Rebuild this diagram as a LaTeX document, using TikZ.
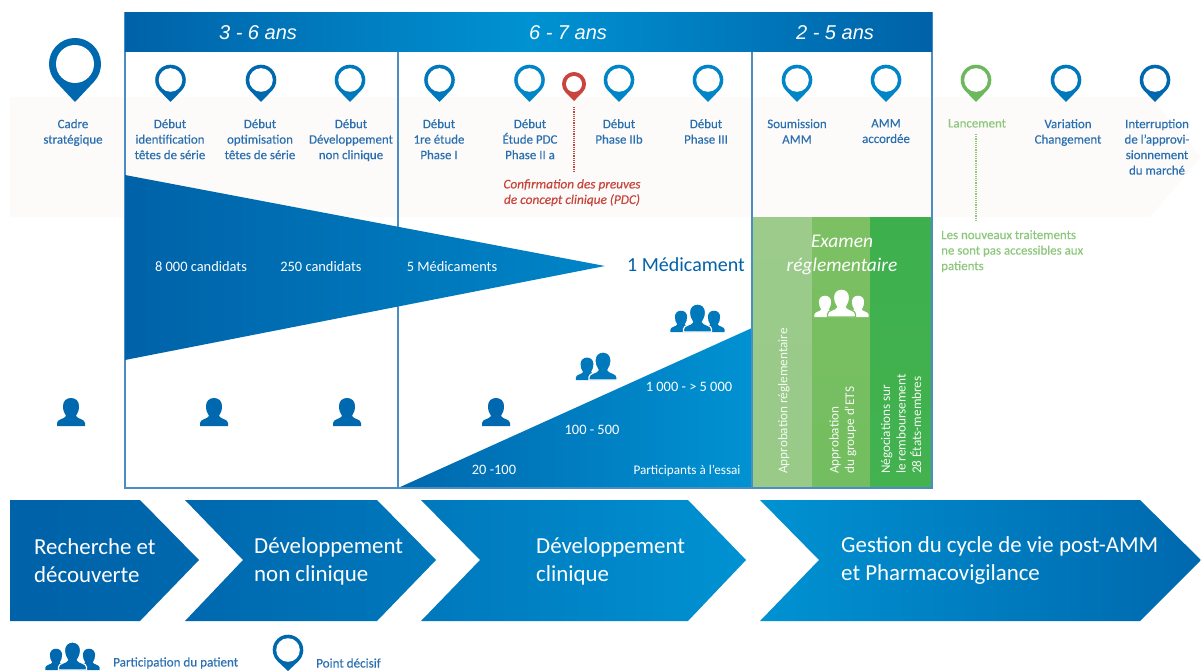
\documentclass[tikz,border=0pt]{standalone}
\usepackage{fontspec}
\setmainfont{Carlito}
\newfontfamily\labf[FakeBold=0.25]{Carlito}
\newfontfamily\headf{Liberation Sans}
\usetikzlibrary{calc}
\definecolor{band}{HTML}{FCFBF9}
\definecolor{frameblue}{HTML}{4A8CC4}
\definecolor{txtblue}{HTML}{2A6FB0}
\definecolor{pinA}{HTML}{0068AE}
\definecolor{pinB}{HTML}{0085C8}
\definecolor{pinR}{HTML}{C8443C}
\definecolor{pinG}{HTML}{6DB85C}
\definecolor{txtG}{HTML}{8DC77B}
\definecolor{deep}{HTML}{0062A8}
\definecolor{midb}{HTML}{0078BC}
\definecolor{light}{HTML}{0092D2}
\definecolor{gA}{HTML}{9CCB8C}
\definecolor{gB}{HTML}{7CC063}
\definecolor{gC}{HTML}{3DB04D}
\tikzset{
  lab/.style={font=\labf\fontsize{12.9}{15.5}\selectfont,text=txtblue,align=center,inner sep=0pt},
  wlab/.style={font=\fontsize{14.4}{16}\selectfont,text=white,inner sep=0pt},
  chev/.style={font=\fontsize{22.9}{28}\selectfont,text=white,align=left,anchor=west,inner sep=0pt},
  head/.style={font=\headf\itshape\fontsize{20}{22}\selectfont,text=white,inner sep=0pt},
  rot/.style={font=\fontsize{13.2}{15.5}\selectfont,text=white!92!gB,rotate=90,align=left,anchor=west,inner sep=0pt},
  frameline/.style={draw=frameblue,line width=1.1pt},
  legend/.style={font=\labf\fontsize{13.1}{15}\selectfont,text=txtblue,anchor=west,inner sep=0pt}
}
% pin: x, cy, r, hole, d(tip distance), colour
\newcommand\pin[6]{%
  \pgfmathsetmacro\pa{acos(#3/#5)}%
  \fill[#6] (#1,#2+#5) -- ($(#1,#2)+({90-\pa}:#3)$) arc[start angle={90-\pa},end angle={90+\pa-360},radius=#3] -- cycle;
  \fill[white] (#1,#2) circle[radius=#4];
}
% person: x, base y, scale, fill, outline
\newcommand\person[5]{%
  \begin{scope}[shift={(#1,#2)},scale=#3]
  \path[fill=#4,draw=#5,line width=1.2pt] (-14,0) -- (-14,-3) .. controls (-14,-7) and (-6,-7) .. (-5,-10) .. controls (-7,-13) and (-8,-16) .. (-8,-20) .. controls (-8,-25) and (-4.5,-28) .. (0,-28) .. controls (4.5,-28) and (8,-25) .. (8,-20) .. controls (8,-16) and (7,-13) .. (5,-10) .. controls (6,-7) and (14,-7) .. (14,-3) -- (14,0) -- cycle;
  \end{scope}
}
\newcommand\trio[4]{% x, y, scale, fill
  \person{#1-16.5*#3}{#2}{.76*#3}{#4}{none}
  \person{#1+16.5*#3}{#2}{.76*#3}{#4}{none}
  \person{#1}{#2}{#3}{#4}{white}
}
\begin{document}
\begin{tikzpicture}[x=1pt,y=-1pt]
\useasboundingbox (0,0) rectangle (1201,671);
\fill[white] (0,0) rectangle (1201,671);
% pale band
\fill[band] (10,97) -- (1150,97) -- (1201,157) -- (1150,217) -- (10,217) -- cycle;
% trial triangle
\path[left color=pinA,right color=light] (398,488) -- (752,328) -- (752,488) -- cycle;
% green columns
\path[top color=gA,bottom color=gA!90!gB] (752,217) rectangle (812,488);
\path[top color=gB,bottom color=gB!85!gC] (812,217) rectangle (870,488);
\path[top color=gC,bottom color=gC!90!gB] (870,217) rectangle (932,488);
% frame
\draw[frameline] (125,13) rectangle (932,488);
\draw[frameline] (398,52) -- (398,488);
\draw[frameline] (752,52) -- (752,488);
% header
\path[left color=deep,right color=light] (125,13) rectangle (528,52);
\path[left color=light,right color=deep] (528,13) rectangle (932,52);
\node[head] (h1) at (258,33) {3 - 6 ans};
\node[head] (h2) at (568,33) {6 - 7 ans};
\node[head] (h3) at (835,33) {2 - 5 ans};
% funnel
\path[left color=deep,right color=pinB] (125,175) -- (605,266) -- (125,360) -- cycle;
% pins
\pin{75}{64}{26}{19}{38}{pinA}
\pin{170.5}{80}{15.3}{11.8}{22}{pinA}
\pin{261}{80}{15.3}{11.8}{22}{pinA}
\pin{350}{80}{15.3}{11.8}{22}{midb}
\pin{439.5}{80}{15.3}{11.8}{22}{midb}
\pin{529.5}{80}{15.3}{11.8}{22}{pinB}
\pin{574}{84}{12}{8}{17}{pinR}
\pin{619}{80}{15.3}{11.8}{22}{pinB}
\pin{708}{80}{15.3}{11.8}{22}{pinB}
\pin{797}{80}{15.3}{11.8}{22}{pinB}
\pin{886}{80}{15.3}{11.8}{22}{pinB}
\pin{976}{80}{15.3}{11.8}{22}{pinG}
\pin{1066}{80}{15.3}{11.8}{22}{midb}
\pin{1155}{80}{15.3}{11.8}{22}{pinA}
% pin labels
\node[lab,anchor=north] (t0) at (73,119) {Cadre\\stratégique};
\node[lab,anchor=north] (t1) at (170,119) {Début\\identification\\têtes de série};
\node[lab,anchor=north] (t2) at (260,119) {Début\\optimisation\\têtes de série};
\node[lab,anchor=north] (t3) at (351,119) {Début\\Développement\\non clinique};
\node[lab,anchor=north] (t4) at (439,119) {Début\\1re étude\\Phase I};
\node[lab,anchor=north] (t5) at (530,119) {Début\\Étude PDC\\Phase II a};
\node[lab,anchor=north] (t6) at (619,119) {Début\\Phase IIb};
\node[lab,anchor=north] (t7) at (706,119) {Début\\Phase III};
\node[lab,anchor=north] (t8) at (797,119) {Soumission\\AMM};
\node[lab,anchor=north] (t9) at (886,119) {AMM\\accordée};
\node[lab,anchor=north,text=txtG] (t10) at (977,119) {Lancement};
\node[lab,anchor=north] (t11) at (1068,119) {Variation\\Changement};
\node[lab,anchor=north] (t12) at (1157,119) {Interruption\\de l’approvi-\\sionnement\\du marché};
% red note
\coordinate (r0) at (574,107);
\coordinate (r1) at (574,173);
\draw[pinR,densely dotted,line width=1.2pt] (r0) -- (r1);
\node[lab,anchor=north,text=pinR,font=\labf\itshape\fontsize{13.3}{15.5}\selectfont] (conf) at (572,179) {Confirmation des preuves\\de concept clinique (PDC)};
% green note
\coordinate (g0) at (976,134);
\coordinate (g1) at (976,222);
\draw[txtG,densely dotted,line width=1.2pt] (g0) -- (g1);
\node[lab,anchor=north west,align=left,text=txtG] (lnote) at (941,230) {Les nouveaux traitements\\ne sont pas accessibles aux\\patients};
% funnel labels
\node[wlab] (f1) at (201,267) {8 000 candidats};
\node[wlab] (f2) at (321,267) {250 candidats};
\node[wlab] (f3) at (452,267) {5 Médicaments};
\node[inner sep=0pt,text=deep,font=\fontsize{20}{22}\selectfont] (f4) at (686,265) {1 Médicament};
% trial labels
\node[wlab] (p1) at (494,470) {20 -100};
\node[wlab] (p2) at (592,430) {100 - 500};
\node[wlab] (p3) at (689,387) {1 000 - > 5 000};
\node[wlab,font=\fontsize{13.2}{15}\selectfont] (p4) at (687,471) {Participants à l’essai};
% regulatory
\node[inner sep=0pt,align=center,text=white,font=\itshape\fontsize{19.4}{24}\selectfont] (ex) at (842,255) {Examen\\réglementaire};
\node[rot] (r1t) at (784,474) {Approbation réglementaire};
\node[rot] (r2t) at (843,474) {Approbation\\du groupe d’ETS};
\node[rot] (r3t) at (901,474) {Négociations sur\\le remboursement\\28 États-membres};
% people
\person{71}{426}{1}{pinA}{none}
\person{214}{426}{1}{pinA}{none}
\person{347}{426}{1}{pinA}{none}
\person{496}{426}{1}{pinA}{none}
\person{587}{380}{.8}{midb}{none}
\person{603}{380}{1}{midb}{white}
\trio{697.5}{332}{1}{midb}
\person{825}{317}{.76}{white}{none}
\person{858}{317}{.76}{white}{none}
\person{841.5}{317}{1}{white}{gB}
% chevrons
\path[left color=deep,right color=pinA] (10,500) -- (140,500) -- (199,560) -- (140,621) -- (10,621) -- cycle;
\path[left color=pinA,right color=midb] (185,500) -- (377,500) -- (436,560) -- (377,621) -- (185,621) -- (243,560) -- cycle;
\path[left color=midb,right color=light] (421,500) -- (688,500) -- (746,560) -- (688,621) -- (421,621) -- (480,560) -- cycle;
\path[left color=light,right color=pinA] (760,500) -- (1140,500) -- (1201,560) -- (1140,621) -- (760,621) -- (819,560) -- cycle;
\node[chev] (c1) at (34,561) {Recherche et\\découverte};
\node[chev] (c2) at (254,561) {Développement\\non clinique};
\node[chev] (c3) at (536,561) {Développement\\clinique};
\node[chev] (c4) at (841,561) {Gestion du cycle de vie post-AMM\\et Pharmacovigilance};
% legend
\trio{72.5}{670}{1}{pinA}
\node[legend] (l1) at (113,663) {Participation du patient};
\pin{288}{650}{15.3}{11.8}{21}{pinA}
\node[legend] (l2) at (316,663) {Point décisif};
\end{tikzpicture}
\end{document}
